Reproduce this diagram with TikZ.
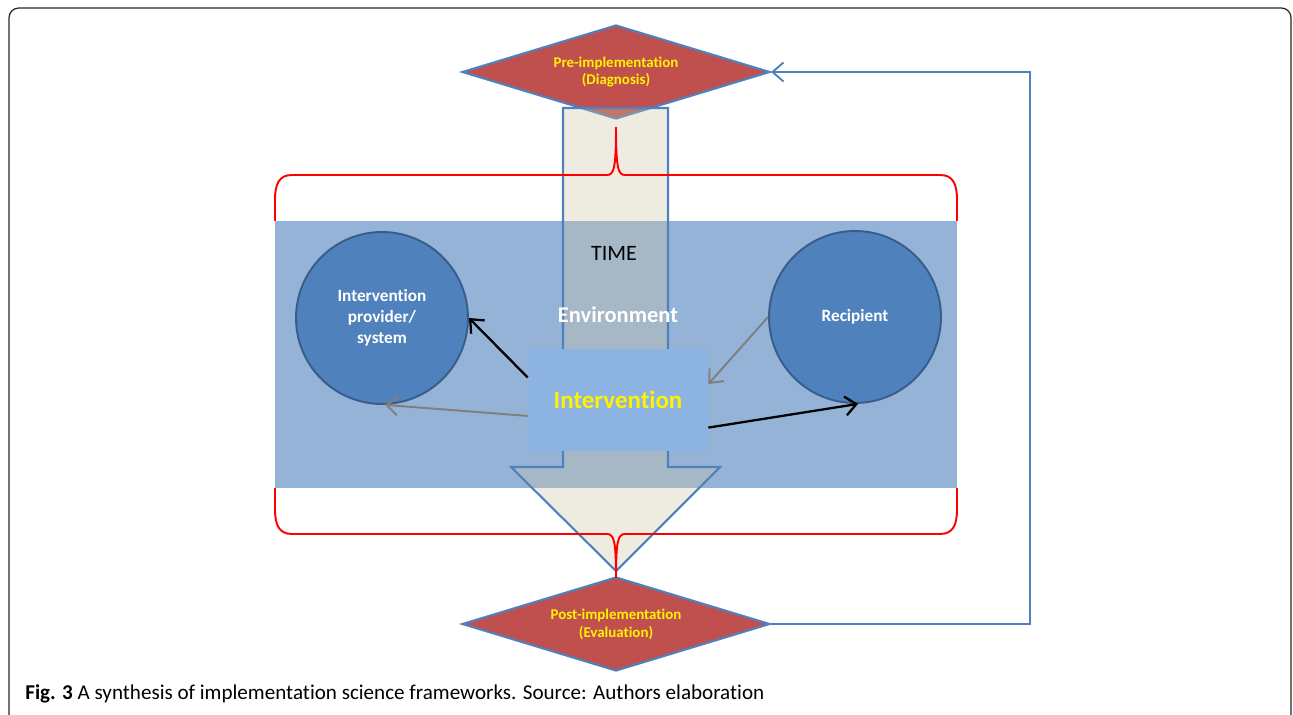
\documentclass[tikz,border=0pt]{standalone}
\usepackage{fontspec}
\setmainfont{Carlito}[Ligatures=NoCommon]
\usepackage{tikz}
\usetikzlibrary{shapes.geometric,arrows.meta,positioning}

\definecolor{bandblue}{HTML}{95B3D7}
\definecolor{actorblue}{HTML}{4F81BD}
\definecolor{actorrim}{HTML}{385D8A}
\definecolor{linkblue}{HTML}{4F81BD}
\definecolor{boxblue}{HTML}{8DB3E2}
\definecolor{phasered}{HTML}{C0504D}
\definecolor{timefill}{RGB}{202,196,161}
\definecolor{flowgray}{HTML}{7F7F7F}

\begin{document}
\begin{tikzpicture}[x=0.02cm,y=-0.02cm,
  >={Straight Barb[length=2.2mm,width=3.8mm]},
  phase/.style={diamond,shape aspect=3.28,minimum width=6.16cm,minimum height=1.88cm,inner sep=0pt,
    fill=phasered,draw=linkblue,line width=1.2pt,text=yellow,align=center,
    font=\bfseries\fontsize{8.5}{10.2}\selectfont},
  actor/.style={circle,minimum size=3.44cm,inner sep=0pt,fill=actorblue,draw=actorrim,line width=1.1pt,
    text=white,align=center,font=\bfseries\fontsize{9.8}{11.9}\selectfont},
  brace/.style={red,line width=1.1pt},
  flow/.style={->,line width=1.3pt}]
\useasboundingbox (0,0) rectangle (1293,715);
\clip (0,0) rectangle (1293,715);

% frame and caption
\draw[rounded corners=5.5pt,line width=0.7pt,black!85] (9,8) rectangle (1291,760);
\node[anchor=base west,inner sep=0pt,font=\fontsize{12}{14}\selectfont] (caption) at (25,699)
  {\textbf{Fig. 3} A synthesis of implementation science frameworks. Source: Authors elaboration};

% environment band
\node[fill=bandblue,minimum width=13.64cm,minimum height=5.34cm,inner sep=0pt] (env) at (616,354.5) {};

% phases
\node[phase] (pre) at (616,72) {Pre-implementation\\(Diagnosis)};
\node[phase] (post) at (616,624) {Post-implementation\\(Evaluation)};

% time arrow
\draw[fill=timefill,fill opacity=0.32,draw=linkblue,line width=1.2pt]
  (563,108) -- (668,108) -- (668,467) -- (720,467) -- (616,571) -- (511,467) -- (563,467) -- cycle;

% braces
\draw[brace] (275,221) -- (275,200) .. controls (275,184) and (279,175) .. (292,175) -- (607,175)
  .. controls (614,175) and (616,168) .. (616,127) .. controls (616,168) and (618,175) .. (625,175)
  -- (940,175) .. controls (953,175) and (957,184) .. (957,200) -- (957,221);
\draw[brace] (275,488) -- (275,509) .. controls (275,525) and (279,534) .. (292,534) -- (607,534)
  .. controls (614,534) and (616,541) .. (616,578) .. controls (616,541) and (618,534) .. (625,534)
  -- (940,534) .. controls (953,534) and (957,525) .. (957,509) -- (957,488);

% actors
\node[actor] (provider) at (382,318) {Intervention\\provider/\\system};
\node[actor] (recip) at (855,317) {Recipient};

% labels
\node[font=\fontsize{12.5}{15}\selectfont] (time) at (614,253) {TIME};
\node[text=white,font=\bfseries\fontsize{12.8}{15}\selectfont] (envlabel) at (618,315) {Environment};
\node[fill=boxblue,minimum width=3.6cm,minimum height=2.04cm,inner sep=0pt,text=yellow,
  font=\bfseries\fontsize{14.2}{17}\selectfont] (interv) at (618,400) {Intervention};

% flows
\draw[flow] (interv.166) -- (provider.east);
\draw[flow,flowgray,line width=1.1pt] (interv.190) -- (provider.-88);
\draw[flow,flowgray,line width=1.1pt] (recip.west) -- (interv.10);
\draw[flow] (interv.-17) -- (recip.-88);

% feedback
\draw[->,linkblue,line width=1.1pt] (post.east) -- ++(259,0) coordinate (turn) |- (pre.east);
\end{tikzpicture}
\end{document}
